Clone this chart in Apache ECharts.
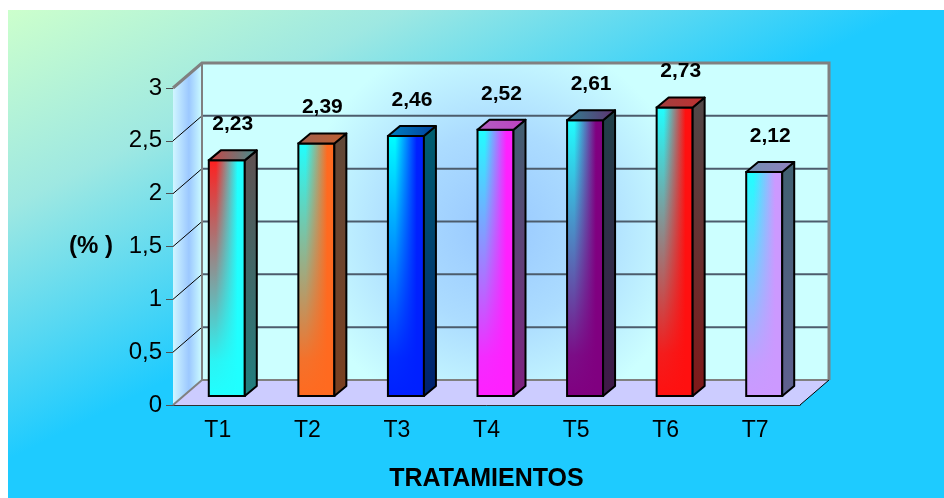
<!DOCTYPE html>
<html lang="es">
<head>
    <meta charset="UTF-8">
    <title>Tratamientos</title>
    <script src="https://cdn.jsdelivr.net/npm/echarts@6/dist/echarts.min.js"></script>
    <style>
        html, body {margin: 0; padding: 0; background: #fff;}
        #main {width: 944px; height: 498px;}
    </style>
</head>
<body>
<div id="main"></div>
<script type="text/javascript">

    // datos del grafico
    var categories = ['T1', 'T2', 'T3', 'T4', 'T5', 'T6', 'T7'];
    var values = [2.23, 2.39, 2.46, 2.52, 2.61, 2.73, 2.12];
    var yTicks = [0, 0.5, 1, 1.5, 2, 2.5, 3];

    // colores de cada barra (cara frontal: a -> b, lateral, tapa)
    var barStyles = [
        {a: '#ff2020', b: '#20ffff', side: ['#605050', '#208080'], top: ['#d04040', '#409090']},
        {a: '#20ffff', b: '#ff6a20', side: ['#604838', '#7a4020'], top: ['#a06050', '#c06030']},
        {a: '#00ffff', b: '#0020ff', side: ['#006070', '#002070'], top: ['#0080c0', '#0040a0']},
        {a: '#20ffff', b: '#ff20ff', side: ['#406070', '#802080'], top: ['#b060c0', '#c040c0']},
        {a: '#20ffff', b: '#800080', side: ['#204048', '#401848'], top: ['#308090', '#603070']},
        {a: '#20ffff', b: '#ff1010', side: ['#504848', '#801818'], top: ['#a04040', '#c03030']},
        {a: '#20ffff', b: '#cc99ff', side: ['#406070', '#606090'], top: ['#7090b0', '#9080c0']}
    ];

    var DX = 29, DY = -25;      // profundidad de la caja
    var BX = 9, BY = -9;        // plano frontal de las barras
    var BW = 36, BDX = 12, BDY = -10;
    var FONT = "'Liberation Sans', Arial, sans-serif";

    function fmt(v) {
        return String(v).replace('.', ',');
    }

    function hexA(hex, a) {
        var n = parseInt(hex.slice(1), 16);
        return 'rgba(' + (n >> 16) + ',' + ((n >> 8) & 255) + ',' + (n & 255) + ',' + a + ')';
    }

    function renderWalls(params, api) {
        var cs = params.coordSys;
        var x0 = cs.x, y0 = cs.y, w = cs.width, yB = cs.y + cs.height;
        var kids = [];
        // pared izquierda
        kids.push({
            type: 'polygon',
            shape: {points: [[x0, yB], [x0, y0], [x0 + DX, y0 + DY], [x0 + DX, yB + DY]]},
            style: {
                fill: new echarts.graphic.LinearGradient(0, 0, 1, 0, [
                    {offset: 0, color: '#d0f6ff'}, {offset: 0.55, color: '#9cc8ff'}, {offset: 1, color: '#ccfcff'}
                ])
            }
        });
        // pared del fondo
        kids.push({
            type: 'rect',
            shape: {x: x0 + DX, y: y0 + DY, width: w, height: cs.height},
            style: {
                fill: new echarts.graphic.RadialGradient(0.47, 0.52, 0.62, [
                    {offset: 0, color: '#98c8ff'}, {offset: 0.5, color: '#acdcff'}, {offset: 1, color: '#ccffff'}
                ])
            }
        });
        // piso
        kids.push({
            type: 'polygon',
            shape: {points: [[x0, yB], [x0 + w, yB], [x0 + w + DX, yB + DY], [x0 + DX, yB + DY]]},
            style: {fill: '#ccccff'}
        });
        // lineas de division
        for (var i = 1; i < yTicks.length - 1; i++) {
            var y = api.coord([0, yTicks[i]])[1];
            kids.push({
                type: 'line',
                shape: {x1: x0 + DX, y1: y + DY, x2: x0 + w + DX, y2: y + DY},
                style: {stroke: '#4c5c6c', lineWidth: 2}
            });
            kids.push({
                type: 'line',
                shape: {x1: x0, y1: y, x2: x0 + DX, y2: y + DY},
                style: {stroke: '#000', lineWidth: 1}
            });
        }
        // bordes
        kids.push({
            type: 'polyline',
            shape: {points: [[x0, y0], [x0 + DX, y0 + DY], [x0 + w + DX, y0 + DY], [x0 + w + DX, yB + DY]]},
            style: {stroke: '#808080', lineWidth: 3, fill: null}
        });
        kids.push({
            type: 'polyline',
            shape: {points: [[x0 + DX, y0 + DY], [x0 + DX, yB + DY], [x0 + w + DX, yB + DY]]},
            style: {stroke: '#808080', lineWidth: 2, fill: null}
        });
        kids.push({
            type: 'polyline',
            shape: {points: [[x0, yB], [x0 + DX, yB + DY]]},
            style: {stroke: '#808080', lineWidth: 2, fill: null}
        });
        kids.push({
            type: 'line',
            shape: {x1: x0 + w, y1: yB, x2: x0 + w + DX, y2: yB + DY},
            style: {stroke: '#000', lineWidth: 1}
        });
        return {type: 'group', children: kids};
    }

    function renderBar(params, api) {
        var i = api.value(0), v = api.value(1);
        var st = barStyles[i];
        var top = api.coord([i, v]);
        var base = api.coord([i, 0]);
        var xl = top[0] + BX - BW / 2, xr = xl + BW;
        var yt = top[1] + BY, yb = base[1] + BY;
        var edge = {stroke: '#000', lineWidth: 2, lineJoin: 'round'};
        return {
            type: 'group',
            children: [
                {
                    type: 'rect',
                    shape: {x: xl, y: yt, width: BW, height: yb - yt},
                    style: {
                        fill: new echarts.graphic.LinearGradient(0, 0, 1, 0, [
                            {offset: 0, color: st.a}, {offset: 0.2, color: st.a},
                            {offset: 0.8, color: st.b}, {offset: 1, color: st.b}
                        ])
                    }
                },
                {
                    type: 'rect',
                    shape: {x: xl, y: yt, width: BW, height: yb - yt},
                    style: {
                        fill: new echarts.graphic.LinearGradient(0, 0, 0, 1, [
                            {offset: 0, color: hexA(st.b, 0)}, {offset: 0.4, color: hexA(st.b, 0.45)},
                            {offset: 0.85, color: hexA(st.b, 0.95)}, {offset: 1, color: hexA(st.b, 1)}
                        ]),
                        stroke: '#000', lineWidth: 2
                    }
                },
                {
                    type: 'polygon',
                    shape: {points: [[xr, yt], [xr + BDX, yt + BDY], [xr + BDX, yb + BDY], [xr, yb]]},
                    style: Object.assign({
                        fill: new echarts.graphic.LinearGradient(0, 0, 0, 1, [
                            {offset: 0, color: st.side[0]}, {offset: 1, color: st.side[1]}
                        ])
                    }, edge)
                },
                {
                    type: 'polygon',
                    shape: {points: [[xl, yt], [xr, yt], [xr + BDX, yt + BDY], [xl + BDX, yt + BDY]]},
                    style: Object.assign({
                        fill: new echarts.graphic.LinearGradient(0, 0, 1, 0, [
                            {offset: 0, color: st.top[0]}, {offset: 1, color: st.top[1]}
                        ])
                    }, edge)
                },
                {
                    type: 'text',
                    style: {
                        x: (xl + xr + BDX) / 2, y: yt + BDY - 26,
                        text: fmt(v.toFixed(2)),
                        align: 'center', verticalAlign: 'middle',
                        font: 'bold 21px ' + FONT, fill: '#000'
                    }
                }
            ]
        };
    }

    var myChart = echarts.init(document.getElementById('main'));
    var option = {
        backgroundColor: '#fff',
        animation: false,
        graphic: [{
            type: 'rect',
            z: -10,
            silent: true,
            shape: {x: 8, y: 10, width: 936, height: 488},
            style: {
                fill: new echarts.graphic.LinearGradient(8, 10, 188, 370, [
                    {offset: 0, color: '#ccffcc'}, {offset: 0.44, color: '#9ee8e2'},
                    {offset: 1, color: '#1ecbff'}
                ], true)
            }
        }],
        grid: {left: 173, right: 144, top: 88, bottom: 93},
        xAxis: {
            type: 'category',
            data: categories,
            name: 'TRATAMIENTOS',
            nameLocation: 'middle',
            nameGap: 62,
            nameTextStyle: {fontSize: 25, fontWeight: 'bold', color: '#000', fontFamily: FONT},
            axisLine: {lineStyle: {color: '#303030', width: 1}},
            axisTick: {length: 7, lineStyle: {color: '#303030'}},
            axisLabel: {fontSize: 23, color: '#000', margin: 14, fontFamily: FONT},
            splitLine: {show: false}
        },
        yAxis: {
            type: 'value',
            min: yTicks[0],
            max: yTicks[yTicks.length - 1],
            interval: yTicks[1] - yTicks[0],
            name: '(% )',
            nameLocation: 'middle',
            nameRotate: 0,
            nameGap: 60,
            nameTextStyle: {fontSize: 24, fontWeight: 'bold', color: '#000', fontFamily: FONT},
            axisLine: {show: true, lineStyle: {color: '#505050', width: 1}},
            axisTick: {show: true, length: 7, lineStyle: {color: '#505050'}},
            axisLabel: {fontSize: 24, color: '#000', margin: 11, fontFamily: FONT, formatter: fmt},
            splitLine: {show: false}
        },
        series: [
            {
                type: 'custom',
                z: 1,
                silent: true,
                clip: false,
                renderItem: renderWalls,
                data: [[0, 0]]
            },
            {
                type: 'custom',
                z: 3,
                clip: false,
                renderItem: renderBar,
                data: values.map(function (v, i) {
                    return [i, v];
                })
            }
        ]
    };
    myChart.setOption(option);
</script>
</body>
</html>
